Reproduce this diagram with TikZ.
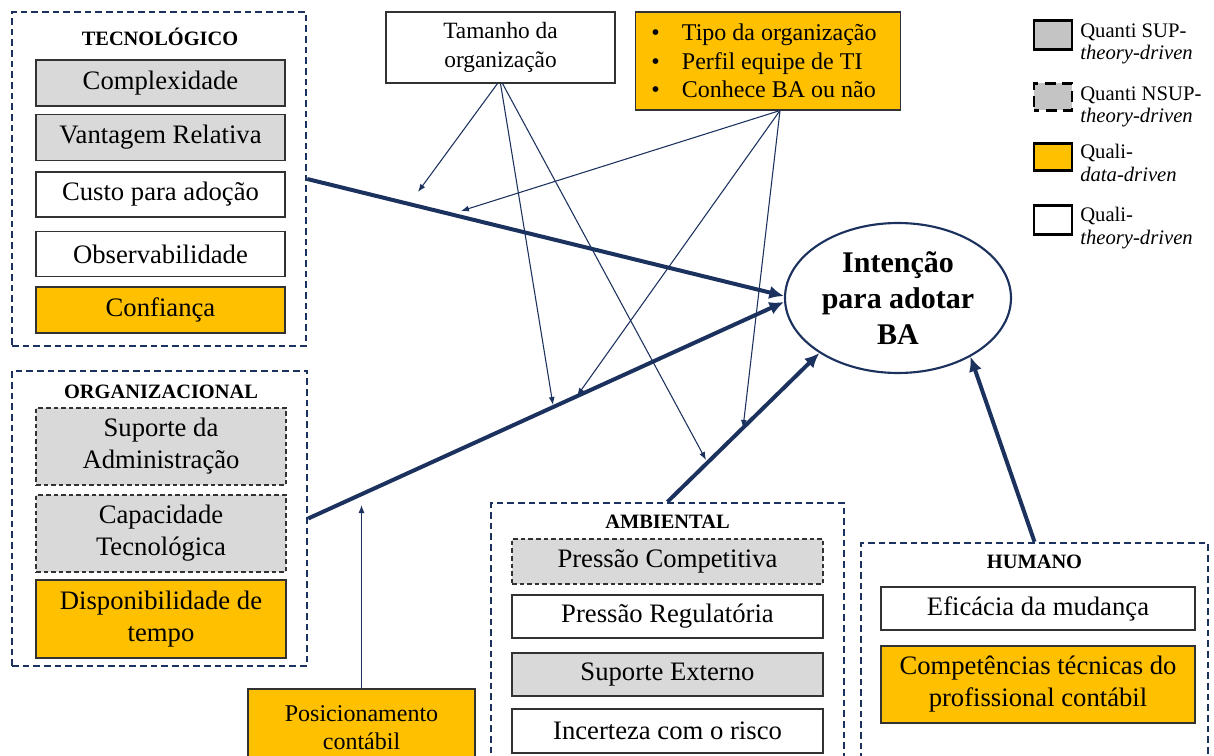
\documentclass[tikz,border=0pt]{standalone}
\usepackage{fontspec}
\setmainfont{Liberation Serif}
\usetikzlibrary{arrows.meta,shapes.geometric,calc}
\definecolor{navy}{RGB}{28,50,94}
\definecolor{gfill}{RGB}{217,217,217}
\definecolor{lgfill}{RGB}{196,196,196}
\definecolor{ofill}{RGB}{255,192,0}
\definecolor{bord}{RGB}{50,50,50}
\begin{document}
\begin{tikzpicture}[x=0.75pt,y=-0.75pt,
  wh/.style 2 args={minimum width=#1*0.75pt, minimum height=#2*0.75pt},
  grp/.style={draw=navy, line width=1.8pt, dash pattern=on 5pt off 3pt, inner sep=0pt},
  ttl/.style={font=\fontsize{15.3}{18}\selectfont\bfseries, inner sep=0pt},
  bx/.style={draw=bord, fill=white, line width=0.8pt, inner sep=0pt, align=center, font=\fontsize{20}{24}\selectfont},
  supbox/.style={bx, fill=gfill},
  nsupbox/.style={bx, fill=gfill, dash pattern=on 3.5pt off 2.2pt},
  datbox/.style={bx, fill=ofill},
  legbox/.style={draw=black, line width=2pt, inner sep=0pt},
  legtxt/.style={anchor=west, align=left, inner sep=0pt, font=\fontsize{15.5}{17}\selectfont},
  thk/.style={draw=navy, line width=3pt, -{Latex[length=11pt,width=10pt]}},
  thn/.style={draw=navy, line width=0.8pt, -{Latex[length=6pt,width=4.5pt]}}
]
\path[use as bounding box] (0,0) rectangle (1214,756);
\fill[white] (0,0) rectangle (1214,756);
\clip (0,0) rectangle (1214,756);

% TECNOLOGICO
\node[grp, wh={294}{334}] (tec) at (159,179) {};
\node[ttl] (tect) at (160,37) {TECNOLÓGICO};
\node[supbox, wh={249}{46}] (cx) at (160.5,83) {Complexidade};
\node[supbox, wh={249}{46}] (va) at (160.5,137.5) {Vantagem Relativa};
\node[bx, wh={249}{45}] (cu) at (160.5,194.5) {Custo para adoção};
\node[bx, wh={249}{45}] (ob) at (160.5,254) {Observabilidade};
\node[datbox, wh={249}{46}] (co) at (160.5,310) {Confiança};

% ORGANIZACIONAL
\node[grp, wh={295}{295}] (org) at (159.5,518.5) {};
\node[ttl] (orgt) at (161,392) {ORGANIZACIONAL};
\node[nsupbox, wh={250}{77}] (sa) at (161,446.5) {Suporte da\\Administração};
\node[nsupbox, wh={250}{77}] (ct) at (161,533.5) {Capacidade\\Tecnológica};
\node[datbox, wh={250}{78}] (dt) at (161,619) {Disponibilidade de\\tempo};

% Posicionamento
\node[datbox, wh={227}{78}, font=\fontsize{18}{21}\selectfont] (pc) at (361.5,728) {Posicionamento\\contábil};

% Tamanho
\node[bx, wh={229}{71}, font=\fontsize{17.5}{21.75}\selectfont] (tam) at (500.5,47.5) {Tamanho da\\organização};

% List box
\node[datbox, wh={265}{98}] (lst) at (768,61) {};
\node[anchor=west, align=left, inner sep=0pt, font=\fontsize{18}{21.4}\selectfont] (lstt) at (651,61)
 {\makebox[23pt][l]{\textbullet}Tipo da organização\\\makebox[23pt][l]{\textbullet}Perfil equipe de TI\\\makebox[23pt][l]{\textbullet}Conhece BA ou não};

% Legend
\node[legbox, fill=lgfill, wh={38}{29}] (l1) at (1053,35) {};
\node[legtxt] (l1t) at (1080,44) {Quanti SUP-\\\textit{theory-driven}};
\node[legbox, fill=lgfill, wh={38}{27}, dash pattern=on 8pt off 5pt, dash phase=4pt] (l2) at (1053,97) {};
\node[legtxt] (l2t) at (1080,107) {Quanti NSUP-\\\textit{theory-driven}};
\node[legbox, fill=ofill, wh={38}{27}] (l3) at (1053,157) {};
\node[legtxt] (l3t) at (1080,163) {Quali-\\\textit{data-driven}};
\node[legbox, fill=white, wh={38}{29}] (l4) at (1053,220) {};
\node[legtxt] (l4t) at (1080,228) {Quali-\\\textit{theory-driven}};

% Ellipse
\node[draw=navy, line width=1.6pt, ellipse, wh={226}{150}, inner sep=0pt, align=center,
  font=\fontsize{22.5}{27}\selectfont\bfseries] (int) at (898,298) {Intenção\\para adotar\\BA};

% AMBIENTAL
\node[grp, wh={353}{277}] (amb) at (667.5,641.5) {};
\node[ttl] (ambt) at (667.5,522) {AMBIENTAL};
\node[nsupbox, wh={311}{45}] (pcomp) at (667.5,561.5) {Pressão Competitiva};
\node[bx, wh={311}{43}] (preg) at (667.5,616.5) {Pressão Regulatória};
\node[supbox, wh={311}{43}] (sext) at (667.5,674.5) {Suporte Externo};
\node[bx, wh={311}{44}] (inc) at (667.5,731) {Incerteza com o risco};

% HUMANO
\node[grp, wh={347}{237}] (hum) at (1034.5,661.5) {};
\node[ttl] (humt) at (1034.5,562) {HUMANO};
\node[bx, wh={314}{43}] (efi) at (1038,608.5) {Eficácia da mudança};
\node[datbox, wh={314}{77}] (comp) at (1038,684.5) {Competências técnicas do\\profissional contábil};

% thick arrows
\draw[thk] (tec.east) -- (int.179);
\draw[thk] (org.east) -- (int.182);
\draw[thk] (amb.north) -- (int.215);
\draw[thk] (hum.north) -- (int.321);

% moderators
\coordinate (t1) at (418,192);
\coordinate (t2) at (553,405);
\coordinate (t3) at (706,460);
\coordinate (u1) at (461,211);
\coordinate (u2) at (577,396);
\coordinate (u3) at (743,428);
\coordinate (p1) at (361.5,505);
\coordinate (src) at ($(lst.south)+(12,0)$);
\draw[thn] ($(tam.south)+(-3,0)$) -- (t1);
\draw[thn] (tam.south) -- (t2);
\draw[thn] ($(tam.south)+(2,0)$) -- (t3);
\draw[thn] (src) -- (u1);
\draw[thn] (src) -- (u2);
\draw[thn] (src) -- (u3);
\draw[thn] (pc.north) -- (p1);
\end{tikzpicture}
\end{document}
